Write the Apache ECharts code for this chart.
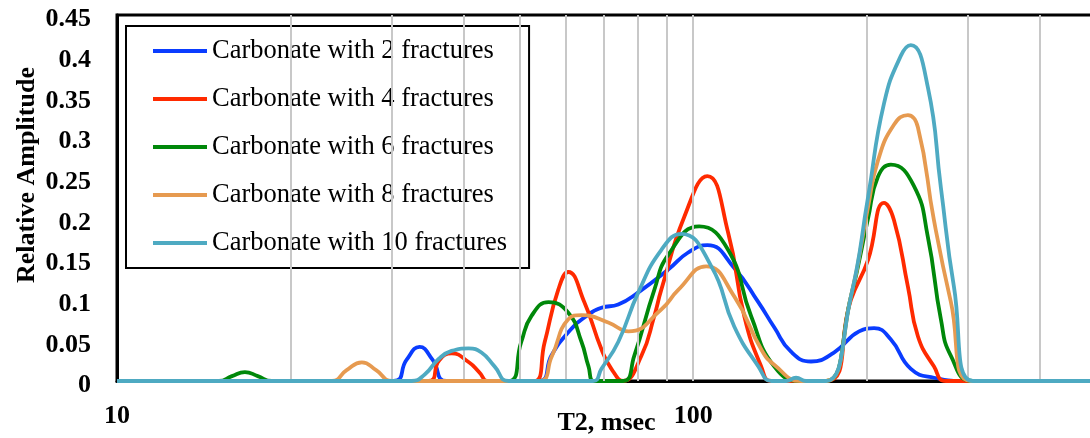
<!DOCTYPE html>
<html><head><meta charset="utf-8">
<script src="https://cdn.jsdelivr.net/npm/echarts@6/dist/echarts.min.js"></script>
<style>html,body{margin:0;padding:0;background:#fff}#c{width:1090px;height:438px}</style>
</head><body><div id="c"></div>
<script>
const seriesNames = ['Carbonate with 2 fractures','Carbonate with 4 fractures','Carbonate with 6 fractures','Carbonate with 8 fractures','Carbonate with 10 fractures'];
const seriesColors = ['#0a3cff','#ff2a00','#00880a','#e69a50','#4eaac2'];
const gridValues = [20,30,40,50,60,70,80,90,100,200,300,400];
const yTicks = {min:0, max:0.45, interval:0.05};
const xRange = {min:10, max:500};

const frac2 = [[10,0],[30.2,0],[31.8,0.026],[33.5,0.042],[35.3,0.026],[37.3,0],
  [53.9,0],[56.8,0.032],[60.7,0.060],[64.7,0.078],[69.3,0.090],[74.1,0.094],[80.3,0.109],[90.5,0.137],[98,0.158],[105.8,0.167],[117.8,0.139],[129.7,0.097],[138.2,0.066],[147.8,0.036],[160.1,0.024],[175.5,0.035],[194,0.061],[206,0.065],[220.3,0.051],[238.6,0.015],[261.6,0.004],[300,0],[500,0]];
const frac4 = [[10,0],[34.7,0],[36.2,0.025],[38.1,0.034],[40.8,0.023],[42.5,0.011],[44.1,0],
  [53.0,0],[55.2,0.047],[58.3,0.112],[60.7,0.134],[64.7,0.097],[69.3,0.039],[72.1,0.015],[75.6,0],
  [81.3,0.031],[85.6,0.080],[88.0,0.112],[96.5,0.202],[105.8,0.252],[115,0.182],[122.6,0.080],[131.2,0.018],[136.6,0],
  [170,0],[187.8,0.10],[201.1,0.149],[214.3,0.219],[223,0.198],[235.8,0.116],[245.4,0.055],[261.6,0.018],[274.5,0],[500,0]];
const frac6 = [[10,0],[15.03,0],[15.83,0.006],[16.67,0.011],[17.55,0.006],[18.56,0],
  [47.8,0],[50.3,0.048],[52.4,0.080],[56.1,0.097],[60.7,0.084],[64.0,0.048],[65.8,0.018],[67.4,0],
  [75.6,0],[79.0,0.031],[85.6,0.112],[90.5,0.155],[102.4,0.190],[115,0.161],[126,0.080],[138.2,0.018],[153.9,0],
  [170,0],[187.8,0.104],[201.1,0.20],[209.2,0.251],[220.3,0.266],[241.5,0.240],[255.4,0.177],[269,0.076],[280,0.031],[305.7,0],[500,0]];
const frac8 = [[10,0],[23.6,0],[25.0,0.013],[26.6,0.023],[28.2,0.013],[30.0,0],
  [53.9,0],[56.8,0.03],[60.7,0.076],[64.0,0.081],[71.2,0.072],[77.2,0.061],[88.0,0.088],[94.2,0.112],[105.3,0.141],[117.8,0.104],[131.2,0.039],[138.2,0.02],[153.9,0],
  [170,0],[187.8,0.104],[201.1,0.214],[209.2,0.271],[223,0.315],[235.8,0.327],[245.4,0.312],[261.6,0.198],[280,0.097],[303.3,0],[500,0]];
const frac10 = [[10,0],[32.45,0],[34.2,0.008],[36.15,0.027],[38.07,0.037],[40.75,0.040],[42.9,0.035],[45.2,0.018],[47.8,0],
  [67.0,0],[69.3,0.015],[74.1,0.048],[80.3,0.109],[88.0,0.161],[95.3,0.181],[107.5,0.141],[117.8,0.067],[129.7,0.018],[136.6,0],
  [145,0],[150.8,0.004],[157,0],
  [170,0],[187.8,0.104],[201.1,0.226],[214.3,0.341],[229.3,0.40],[238.6,0.413],[255.4,0.361],[269,0.238],[283.4,0.116],[305.7,0],[500,0]];
const seriesData = [frac2, frac4, frac6, frac8, frac10];

const FONT = "'Liberation Serif','Times New Roman',serif";
const chart = echarts.init(document.getElementById('c'), null, {renderer:'canvas'});

const series = [{
  name: 'grid', type: 'line', data: [[xRange.min, 0]], symbol: 'none', silent: true, z: 1,
  lineStyle: {opacity: 0},
  markLine: {
    silent: true, symbol: ['none','none'], label: {show: false}, animation: false,
    lineStyle: {color: '#c8c8c8', width: 2, type: 'solid'},
    data: gridValues.map(v => ({xAxis: v}))
  }
}];
seriesNames.forEach((n, i) => {
  series.push({
    name: n, type: 'line', data: seriesData[i], smooth: true, symbol: 'none', z: 2 + i,
    color: seriesColors[i], lineStyle: {width: 3.8, color: seriesColors[i]}
  });
});

chart.setOption({
  animation: false,
  backgroundColor: '#fff',
  grid: {left: 117, top: 15, right: -6, bottom: 57, outerBoundsMode: 'none', containLabel: false,
         show: true, borderColor: '#000', borderWidth: 3, backgroundColor: 'transparent'},
  legend: {
    data: seriesNames, orient: 'vertical', left: 126, top: 26,
    padding: [10, 22, 10, 27], borderColor: '#000', borderWidth: 2, backgroundColor: '#fff',
    itemWidth: 54, itemHeight: 4, itemGap: 18, icon: 'rect',
    textStyle: {fontFamily: FONT, fontSize: 26.5, lineHeight: 30, color: '#000'}
  },
  xAxis: {
    type: 'log', logBase: 10, min: xRange.min, max: xRange.max,
    name: 'T2, msec', nameLocation: 'middle', nameGap: 29, nameMoveOverlap: false,
    nameTextStyle: {fontFamily: FONT, fontSize: 26, fontWeight: 'bold', color: '#000'},
    axisLine: {show: true, lineStyle: {color: '#000', width: 3}},
    axisTick: {show: false}, splitLine: {show: false}, minorTick: {show: false},
    axisLabel: {showMaxLabel: false, margin: 22, fontFamily: FONT, fontSize: 26, fontWeight: 'bold', color: '#000'}
  },
  yAxis: {
    type: 'value', min: yTicks.min, max: yTicks.max, interval: yTicks.interval,
    axisLine: {show: true, lineStyle: {color: '#000', width: 3}},
    axisTick: {show: false}, splitLine: {show: false},
    axisLabel: {
      margin: 26, formatter: v => '{a|' + v + '}',
      rich: {a: {padding: [9, 0, 0, 0], fontFamily: FONT, fontSize: 26, fontWeight: 'bold', color: '#000'}}
    }
  },
  graphic: [{
    type: 'text', x: 27, y: 175, rotation: Math.PI / 2,
    style: {text: 'Relative Amplitude', font: "bold 26px 'Liberation Serif', serif", fill: '#000', textAlign: 'center', textVerticalAlign: 'middle'}
  }],
  series: series
});
</script></body></html>
